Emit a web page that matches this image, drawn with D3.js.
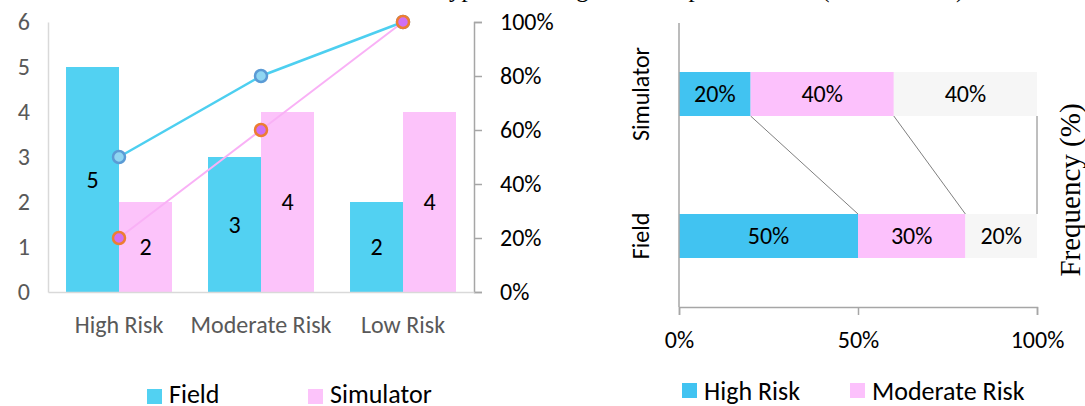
<!DOCTYPE html>
<html>
<head>
<meta charset="utf-8">
<script src="https://cdn.jsdelivr.net/npm/d3@7"></script>
<style>
  html, body { margin: 0; padding: 0; background: #fff; }
  svg { display: block; }
  text { font-family: Carlito, Lato, "Open Sans", sans-serif; }
</style>
</head>
<body>
<svg id="chart" width="1085" height="406"></svg>
<script>
// ---- Risk counts per condition (left panel) ----
const categories = ["High Risk", "Moderate Risk", "Low Risk"];
const seriesNames = ["Field", "Simulator"];
const fieldCounts = [5, 3, 2];
const simulatorCounts = [2, 4, 4];
const fieldCumulative = [0.5, 0.8, 1.0];
const simulatorCumulative = [0.2, 0.6, 1.0];
const countTicks = [0, 1, 2, 3, 4, 5, 6];
const percentTicks = [0, 0.2, 0.4, 0.6, 0.8, 1.0];

// ---- Share of risk types per condition (right panel) ----
const shareGroups = ["Simulator", "Field"];
const riskNames = ["High Risk", "Moderate Risk", "Low Risk"];
const highShare = [0.2, 0.5];
const moderateShare = [0.4, 0.3];
const lowShare = [0.4, 0.2];
const shareTicks = [0, 0.5, 1.0];

const titleText = "Distribution of typical driving behavior performance (Field vs Sim)";

const colors = {
  field: "#52D1F2",
  simulator: "#FCC3FA",
  high: "#41C3F1",
  moderate: "#FCC1FC",
  low: "#F6F6F6"
};

const svg = d3.select("#chart");
const pctFmt = d3.format(".0%");

// Title sits above the top edge; only its descenders reach into view
svg.append("text")
  .attr("x", 288).attr("y", -3.5)
  .style("font-family", "'Liberation Serif', 'Times New Roman', serif")
  .style("font-size", "25px")
  .attr("fill", "#000")
  .text(titleText);

// ================= Left panel: grouped bars + cumulative lines =================
const L = { left: 48, right: 474, top: 22, bottom: 292 };

const x0 = d3.scaleBand().domain(categories).range([L.left, L.right]).paddingInner(0).paddingOuter(0);
const x1 = d3.scaleBand().domain(seriesNames).range([0, x0.bandwidth()]).paddingInner(0).paddingOuter(0.34);
const yCount = d3.scaleLinear().domain([0, 6]).range([L.bottom, L.top]);
const yPct = d3.scaleLinear().domain([0, 1]).range([L.bottom, L.top]);

const left = svg.append("g");

// left axis (no ticks, grey labels)
const yAxisL = left.append("g")
  .attr("transform", `translate(${L.left},0)`)
  .call(d3.axisLeft(yCount).tickValues(countTicks).tickSize(0).tickPadding(18).tickFormat(d3.format("d")));
yAxisL.select(".domain").attr("stroke", "#D9D9D9").attr("stroke-width", 1.5);
yAxisL.selectAll("text").attr("fill", "#595959").style("font-size", "24px");

// right percentage axis, ticks pointing outward
const yAxisR = left.append("g")
  .attr("transform", `translate(${L.right},0)`)
  .call(d3.axisRight(yPct).tickValues(percentTicks).tickSize(8).tickSizeOuter(8).tickPadding(18).tickFormat(pctFmt));
yAxisR.select(".domain").attr("stroke", "#A6A6A6").attr("stroke-width", 1.5);
yAxisR.selectAll(".tick line").attr("stroke", "#A6A6A6").attr("stroke-width", 1.5);
yAxisR.selectAll("text").attr("fill", "#000").style("font-size", "24px");

// bars
const barData = categories.map((c, i) => [
  { cat: c, series: "Field", value: fieldCounts[i], color: colors.field },
  { cat: c, series: "Simulator", value: simulatorCounts[i], color: colors.simulator }
]).flat();

left.selectAll("rect.bar").data(barData).join("rect")
  .attr("class", "bar")
  .attr("x", d => x0(d.cat) + x1(d.series))
  .attr("width", x1.bandwidth())
  .attr("y", d => yCount(d.value))
  .attr("height", d => yCount(0) - yCount(d.value))
  .attr("fill", d => d.color);

// baseline
const xAxisL = left.append("g")
  .attr("transform", `translate(0,${L.bottom})`)
  .call(d3.axisBottom(x0).tickSize(0).tickPadding(24));
xAxisL.select(".domain").attr("stroke", "#D9D9D9").attr("stroke-width", 1.5);
xAxisL.selectAll("text").attr("fill", "#595959").style("font-size", "24px");

// cumulative lines
const cx = c => x0(c) + x0.bandwidth() / 2;
const line = d3.line().x(d => cx(d.cat)).y(d => yPct(d.v));
const fieldPts = categories.map((c, i) => ({ cat: c, v: fieldCumulative[i] }));
const simPts = categories.map((c, i) => ({ cat: c, v: simulatorCumulative[i] }));

left.append("path").datum(fieldPts).attr("d", line)
  .attr("fill", "none").attr("stroke", "#4DCFF0").attr("stroke-width", 2.5);
left.append("path").datum(simPts).attr("d", line)
  .attr("fill", "none").attr("stroke", "#F9B1F6").attr("stroke-width", 2);

left.selectAll("circle.fm").data(fieldPts).join("circle")
  .attr("class", "fm")
  .attr("cx", d => cx(d.cat)).attr("cy", d => yPct(d.v)).attr("r", 6)
  .attr("fill", "#8FD6F2").attr("stroke", "#5B9BD5").attr("stroke-width", 2.5);
left.selectAll("circle.sm").data(simPts).join("circle")
  .attr("class", "sm")
  .attr("cx", d => cx(d.cat)).attr("cy", d => yPct(d.v)).attr("r", 6)
  .attr("fill", "#CF6FF4").attr("stroke", "#ED7D31").attr("stroke-width", 2.5);

// value labels centred in bars
left.selectAll("text.vl").data(barData).join("text")
  .attr("class", "vl")
  .attr("x", d => x0(d.cat) + x1(d.series) + x1.bandwidth() / 2)
  .attr("y", d => (yCount(d.value) + yCount(0)) / 2)
  .attr("dy", "0.35em")
  .attr("text-anchor", "middle")
  .attr("fill", "#000")
  .style("font-size", "24px")
  .text(d => d.value);

// legend
const legL = left.append("g");
const legLItems = [
  { name: "Field", color: colors.field, x: 147 },
  { name: "Simulator", color: colors.simulator, x: 308 }
];
legL.selectAll("rect").data(legLItems).join("rect")
  .attr("x", d => d.x).attr("y", 389).attr("width", 15).attr("height", 15)
  .attr("fill", d => d.color);
legL.selectAll("text").data(legLItems).join("text")
  .attr("x", d => d.x + 22).attr("y", 403)
  .attr("fill", "#000").style("font-size", "26px")
  .text(d => d.name);

// ================= Right panel: 100% stacked horizontal bars =================
const R = { left: 679, right: 1037, top: 23, bottom: 307 };
const xShare = d3.scaleLinear().domain([0, 1]).range([R.left, R.right]);
const yGroup = d3.scaleBand().domain(shareGroups).range([R.top, R.bottom]).padding(0);
const barH = 44;

const right = svg.append("g");

const stackRows = shareGroups.map((g, i) => ({
  group: g,
  parts: [
    { risk: riskNames[0], v: highShare[i], color: colors.high },
    { risk: riskNames[1], v: moderateShare[i], color: colors.moderate },
    { risk: riskNames[2], v: lowShare[i], color: colors.low }
  ]
}));
stackRows.forEach(r => {
  let acc = 0;
  r.parts.forEach(p => { p.x0 = acc; acc += p.v; p.x1 = acc; });
  r.yTop = yGroup(r.group) + (yGroup.bandwidth() - barH) / 2;
});

// series lines linking segment edges between the two bars
const sim = stackRows[0], fld = stackRows[1];
right.selectAll("line.series").data([0, 1, 2]).join("line")
  .attr("class", "series")
  .attr("x1", k => xShare(sim.parts[k].x1)).attr("y1", sim.yTop + barH)
  .attr("x2", k => xShare(fld.parts[k].x1)).attr("y2", fld.yTop)
  .attr("stroke", "#7F7F7F").attr("stroke-width", 1);

stackRows.forEach(r => {
  const g = right.append("g");
  g.selectAll("rect").data(r.parts).join("rect")
    .attr("x", p => xShare(p.x0)).attr("width", p => xShare(p.x1) - xShare(p.x0))
    .attr("y", r.yTop).attr("height", barH)
    .attr("fill", p => p.color);
  g.selectAll("text").data(r.parts).join("text")
    .attr("x", p => (xShare(p.x0) + xShare(p.x1)) / 2)
    .attr("y", r.yTop + barH / 2).attr("dy", "0.35em")
    .attr("text-anchor", "middle").attr("fill", "#000")
    .style("font-size", "24px")
    .text(p => pctFmt(p.v));
});

// axes
const xAxisR = right.append("g")
  .attr("transform", `translate(0,${R.bottom})`)
  .call(d3.axisBottom(xShare).tickValues(shareTicks).tickSize(8).tickSizeOuter(8).tickPadding(16).tickFormat(pctFmt));
xAxisR.select(".domain").attr("stroke", "#A6A6A6").attr("stroke-width", 1.5);
xAxisR.selectAll(".tick line").attr("stroke", "#A6A6A6").attr("stroke-width", 1.5);
xAxisR.selectAll("text").attr("fill", "#000").style("font-size", "24px");

right.append("line")
  .attr("x1", R.left).attr("x2", R.left).attr("y1", R.top).attr("y2", R.bottom)
  .attr("stroke", "#A6A6A6").attr("stroke-width", 1.5);

// rotated group labels
right.selectAll("text.grp").data(shareGroups).join("text")
  .attr("class", "grp")
  .attr("transform", g => `translate(649,${yGroup(g) + yGroup.bandwidth() / 2}) rotate(-90)`)
  .attr("text-anchor", "middle")
  .attr("fill", "#000").style("font-size", "24px")
  .text(g => g);

// axis title on the right
right.append("text")
  .attr("transform", "translate(1080,190) rotate(-90)")
  .attr("text-anchor", "middle")
  .style("font-family", "'Liberation Serif', 'Times New Roman', serif")
  .style("font-size", "29px").attr("fill", "#000")
  .text("Frequency (%)");

// legend
const legRItems = [
  { name: riskNames[0], color: colors.high, x: 682 },
  { name: riskNames[1], color: colors.moderate, x: 850 }
];
right.selectAll("rect.leg").data(legRItems).join("rect")
  .attr("class", "leg")
  .attr("x", d => d.x).attr("y", 383).attr("width", 15).attr("height", 15)
  .attr("fill", d => d.color);
right.selectAll("text.leg").data(legRItems).join("text")
  .attr("class", "leg")
  .attr("x", d => d.x + 22).attr("y", 400)
  .attr("fill", "#000").style("font-size", "26px")
  .text(d => d.name);
</script>
</body>
</html>
